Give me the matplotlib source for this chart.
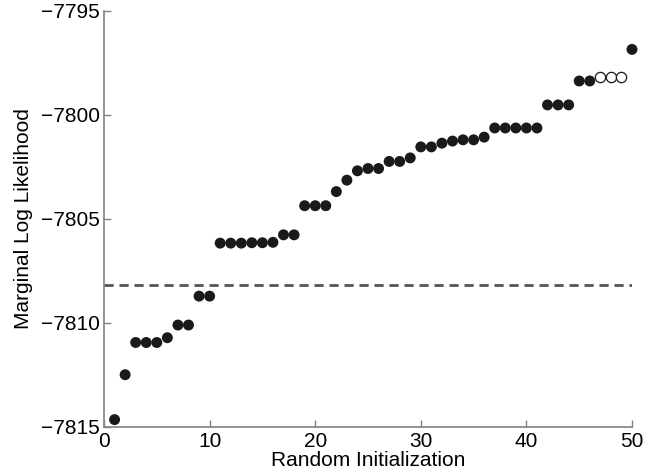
import matplotlib.pyplot as plt

plt.rcParams['font.family'] = ['Liberation Sans', 'DejaVu Sans']

# 数据：50 次随机初始化的边际对数似然（排序后）
init_idx = list(range(1, 51))
log_lik = [
    -7814.66, -7812.50, -7810.95, -7810.95, -7810.95, -7810.72, -7810.11, -7810.11,
    -7808.72, -7808.72, -7806.17, -7806.17, -7806.17, -7806.15, -7806.15, -7806.13,
    -7805.77, -7805.77, -7804.37, -7804.37, -7804.37, -7803.69, -7803.14, -7802.69,
    -7802.58, -7802.58, -7802.24, -7802.24, -7802.07, -7801.54, -7801.54, -7801.36,
    -7801.26, -7801.20, -7801.20, -7801.07, -7800.63, -7800.63, -7800.63, -7800.63,
    -7800.63, -7799.52, -7799.52, -7799.52, -7798.37, -7798.37, -7798.16, -7798.16,
    -7798.16, -7796.85,
]
# 空心点（第 47-49 次）
open_idx = [47, 48, 49]
baseline = -7808.17

fig = plt.figure(figsize=(6.68, 4.76), dpi=100)
ax = fig.add_axes([0.1557, 0.1036, 0.7904, 0.8734])

filled_x = [x for x in init_idx if x not in open_idx]
filled_y = [y for x, y in zip(init_idx, log_lik) if x not in open_idx]
hollow_y = [y for x, y in zip(init_idx, log_lik) if x in open_idx]

# 虚线基准
ax.axhline(baseline, color='#555555', linestyle=(0, (3.3, 2.1)), linewidth=2.0, zorder=1)

ax.scatter(filled_x, filled_y, s=62, color='#1a1a1a', edgecolors='none', zorder=3,
           clip_on=False)
ax.scatter(open_idx, hollow_y, s=55, facecolors='white', edgecolors='#1a1a1a',
           linewidths=0.9, zorder=3, clip_on=False)

ax.set_xlim(0, 50)
ax.set_ylim(-7815, -7795)
ax.set_xticks([0, 10, 20, 30, 40, 50])
ax.set_yticks([-7815, -7810, -7805, -7800, -7795])

ax.set_xlabel('Random Initialization', fontsize=15, labelpad=0)
ax.set_ylabel('Marginal Log Likelihood', fontsize=15, labelpad=6)

for side in ['top', 'right']:
    ax.spines[side].set_visible(False)
for side in ['left', 'bottom']:
    ax.spines[side].set_color('#808080')
    ax.spines[side].set_linewidth(1.2)

ax.tick_params(direction='in', length=5, width=1, color='#808080', labelsize=15)
ax.tick_params(axis='x', pad=4)
ax.tick_params(axis='y', pad=3)

plt.savefig('out.png', dpi=100)
